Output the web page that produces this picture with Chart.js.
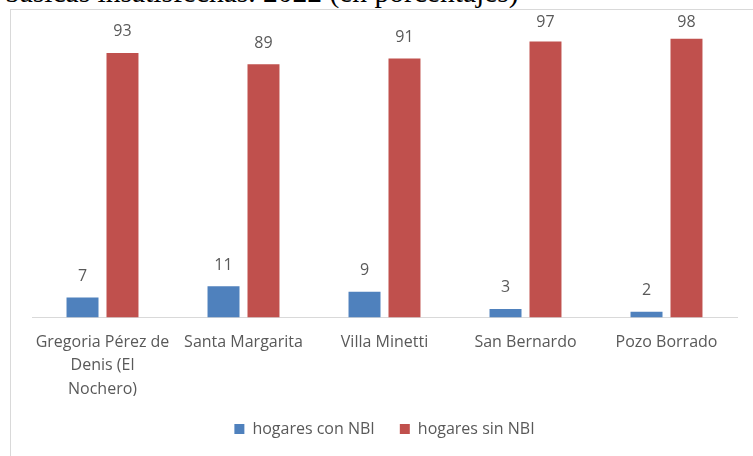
<!DOCTYPE html>
<html>
<head>
<meta charset="utf-8">
<script src="https://cdn.jsdelivr.net/npm/chart.js@4"></script>
<style>
  html, body { margin: 0; padding: 0; background: #fff; overflow: hidden; width: 753px; height: 456px; }
  #title { position: absolute; left: 5px; top: -22px; font-family: "Liberation Serif", serif; font-size: 29.5px; line-height: 29px; color: #000; white-space: nowrap; }
  #box { position: absolute; left: 10px; top: 9px; width: 760px; height: 460px; border-left: 1px solid #d9d9d9; border-top: 1px solid #d9d9d9; }
  #wrap { position: absolute; left: 0; top: 0; width: 743px; height: 447px; }
</style>
</head>
<body>
<div id="title">básicas insatisfechas. 2022 (en porcentajes)</div>
<div id="box"><div id="wrap"><canvas id="c"></canvas></div></div>
<script>
const categories = [
  ["Gregoria Pérez de", "Denis (El", "Nochero)"],
  "Santa Margarita",
  "Villa Minetti",
  "San Bernardo",
  "Pozo Borrado"
];
const conNBI = [7, 11, 9, 3, 2];
const sinNBI = [93, 89, 91, 97, 98];
const seriesNames = ["hogares con NBI", "hogares sin NBI"];

const FONT = "'Open Sans', sans-serif";
const GRAY = "#595959";

const valueLabels = {
  id: "valueLabels",
  afterDatasetsDraw(chart) {
    const ctx = chart.ctx;
    ctx.save();
    ctx.font = "16px " + FONT;
    ctx.fillStyle = GRAY;
    ctx.textAlign = "center";
    ctx.textBaseline = "middle";
    chart.data.datasets.forEach((ds, i) => {
      const meta = chart.getDatasetMeta(i);
      meta.data.forEach((bar, j) => {
        const y = Math.max(bar.y - 21, 12);
        ctx.fillText(String(ds.data[j]), bar.x, y);
      });
    });
    ctx.restore();
  }
};

new Chart(document.getElementById("c"), {
  type: "bar",
  data: {
    labels: categories,
    datasets: [
      { label: seriesNames[0], data: conNBI, backgroundColor: "#4F81BD", categoryPercentage: 0.567, barPercentage: 0.8 },
      { label: seriesNames[1], data: sinNBI, backgroundColor: "#C0504D", categoryPercentage: 0.567, barPercentage: 0.8 }
    ]
  },
  options: {
    responsive: true,
    maintainAspectRatio: false,
    animation: false,
    layout: { padding: { top: 23, left: 21, right: 17, bottom: 10 } },
    plugins: {
      legend: {
        position: "bottom",
        labels: { boxWidth: 10, boxHeight: 10, padding: 25, color: GRAY, font: { family: FONT, size: 16 } }
      },
      tooltip: { enabled: false }
    },
    scales: {
      x: {
        grid: { display: false, drawTicks: false },
        border: { display: true, color: "#d9d9d9", width: 1 },
        ticks: { color: GRAY, padding: 13, maxRotation: 0, autoSkip: false, font: { family: FONT, size: 16, lineHeight: 1.47 } },
        afterFit(scale) { scale.height -= 18; }
      },
      y: { display: false, min: 0, max: 100 }
    }
  },
  plugins: [valueLabels]
});
</script>
</body>
</html>
